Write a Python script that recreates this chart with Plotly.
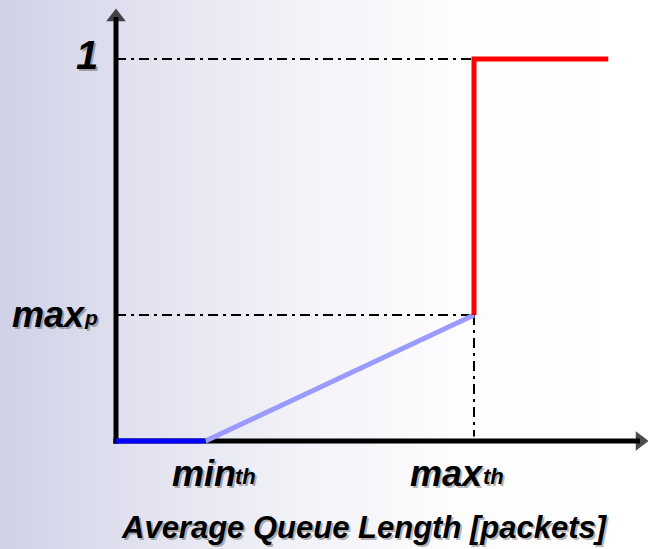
import plotly.graph_objects as go

# ---- data (RED drop probability profile) ----
min_th = 5.0
max_th = 20.0
q_end = 27.5
max_p = 0.33
profile_x_flat = [0.0, min_th]
profile_y_flat = [0.0, 0.0]
profile_x_ramp = [min_th, max_th]
profile_y_ramp = [0.0, max_p]
profile_x_drop = [max_th, max_th, q_end]
profile_y_drop = [max_p, 1.0, 1.0]
x_label_text = "Average Queue Length [packets]"

# ---- layout constants ----
W, H = 648, 549
ox, oy = 116, 441          # pixel origin
sx = (474 - ox) / max_th    # px per x unit
sy = (oy - 59) / 1.0        # px per y unit
xr = [-ox / sx, (W - ox) / sx]
yr = [-(H - oy) / sy, oy / sy]

FONT = "Liberation Sans, Arial, sans-serif"
fig = go.Figure()

# background gradient (base axes, paper-like)
gx = [0, 0.23, 0.46, 0.7, 1]
fig.add_trace(go.Heatmap(
    x=gx, y=[0, 1], z=[gx, gx], zsmooth="best", showscale=False, hoverinfo="skip",
    colorscale=[[0, "rgb(207,209,231)"], [0.23, "rgb(227,227,240)"], [0.46, "rgb(242,242,248)"],
                [0.7, "rgb(253,253,254)"], [1, "rgb(255,255,255)"]],
    zmin=0, zmax=1, xaxis="x", yaxis="y"))

def tr(x, y, **kw):
    fig.add_trace(go.Scatter(x=x, y=y, xaxis="x2", yaxis="y2", hoverinfo="skip",
                             showlegend=False, **kw))

dd = "10px,5px,3px,5px"
# guide lines
tr([0, max_th], [1.0, 1.0], mode="lines", line=dict(color="black", width=2, dash=dd))
tr([0, max_th], [max_p, max_p], mode="lines", line=dict(color="black", width=2, dash=dd))
tr([max_th, max_th], [max_p, 0.012], mode="lines", line=dict(color="black", width=2, dash=dd))

# axes with arrowheads
tip_y = (oy - 17) / sy
tip_x = (640 - ox) / sx
tr([0, 0], [-0.007, tip_y], mode="lines+markers", line=dict(color="black", width=5),
   marker=dict(symbol="triangle-up", size=[0, 17], color="black", line=dict(width=0)))
tr([-0.15, tip_x], [0, 0], mode="lines+markers", line=dict(color="black", width=5),
   marker=dict(symbol="triangle-right", size=[0, 17], color="black", line=dict(width=0)))

# profile
tr(profile_x_ramp, profile_y_ramp, mode="lines", line=dict(color="#9a9aff", width=5))
tr(profile_x_flat, profile_y_flat, mode="lines", line=dict(color="#0000ff", width=5))
tr(profile_x_drop, profile_y_drop, mode="lines", line=dict(color="#ff0000", width=5))

def label(text, x, y, size, xanchor="center", yanchor="middle", xshift=0, yshift=0,
          xref="x2", yref="y2"):
    for dx, dy, col in [(2, -2, "rgba(0,0,0,0.28)"), (0, 0, "black")]:
        fig.add_annotation(x=x, y=y, xref=xref, yref=yref, text=text, showarrow=False,
                           xanchor=xanchor, yanchor=yanchor, xshift=xshift + dx,
                           yshift=yshift + dy,
                           font=dict(family=FONT, size=size, color=col, weight="bold",
                                     style="italic"))

label("1", 0, 1.0, 40, xanchor="right", xshift=-16, yshift=4)
label("max", 0, max_p, 36, xanchor="right", xshift=-28, yshift=0)
label("p", 0, max_p, 21, xanchor="left", xshift=-34, yshift=-3)
label("min", min_th, 0, 36, xanchor="right", xshift=32, yshift=-32)
label("th", min_th, 0, 22, xanchor="left", xshift=27, yshift=-35)
label("max", max_th, 0, 36, xanchor="right", xshift=12, yshift=-32)
label("th", max_th, 0, 22, xanchor="left", xshift=7, yshift=-35)
label(x_label_text, 365 / W, 1 - 527 / H, 31, xref="paper", yref="paper")

ax_hidden = dict(visible=False, showgrid=False, zeroline=False, fixedrange=True)
fig.update_layout(
    width=W, height=H, margin=dict(l=0, r=0, t=0, b=0),
    paper_bgcolor="white", plot_bgcolor="rgba(0,0,0,0)", showlegend=False,
    xaxis=dict(range=[0, 1], domain=[0, 1], **ax_hidden),
    yaxis=dict(range=[0, 1], domain=[0, 1], **ax_hidden),
    xaxis2=dict(range=xr, overlaying="x", **ax_hidden),
    yaxis2=dict(range=yr, overlaying="y", **ax_hidden),
)
fig.write_html("out.html", config={"displayModeBar": False},
               post_script="document.body.style.margin='0';document.body.style.overflow='hidden';")
